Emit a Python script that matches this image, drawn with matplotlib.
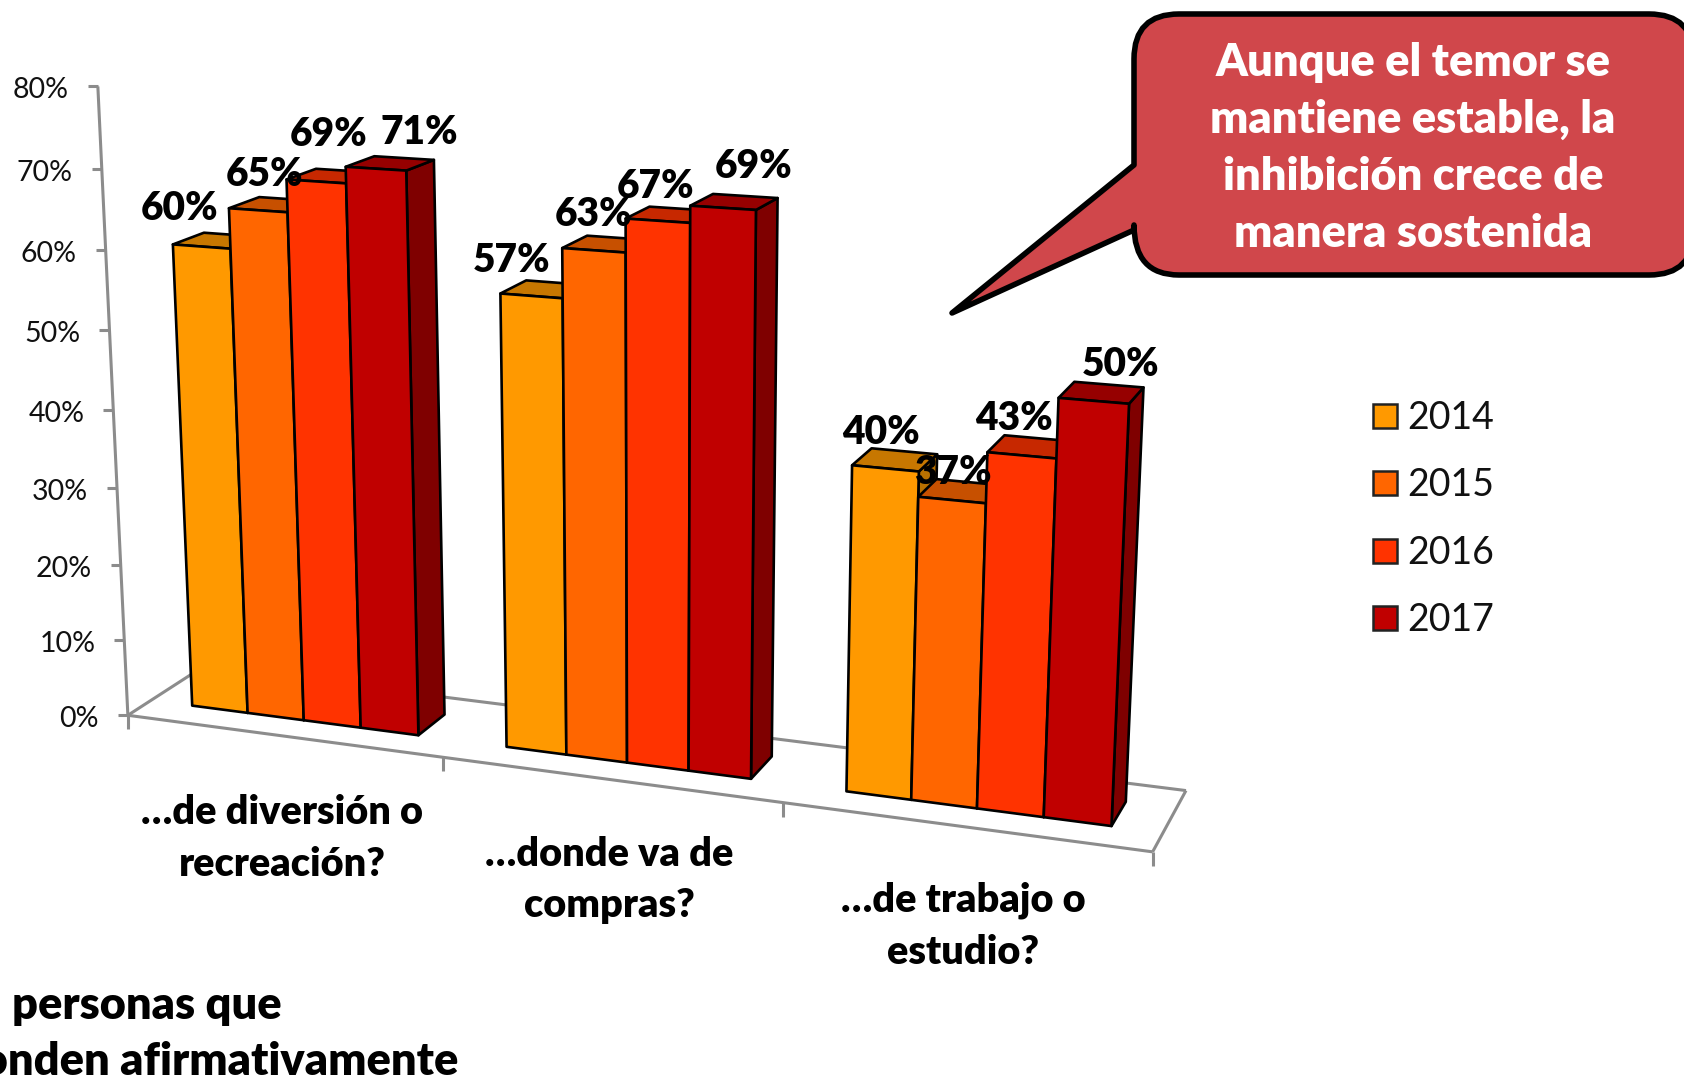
#!/usr/bin/env python3

import matplotlib
matplotlib.use('Agg')
import numpy as np
import matplotlib.pyplot as plt
from matplotlib.patches import Polygon, PathPatch, Rectangle
from matplotlib.path import Path

# Datos
categories = ['…de diversión o\nrecreación?', '…donde va de\ncompras?', '…de trabajo o\nestudio?']
years = ['2014', '2015', '2016', '2017']
values_2014 = [60, 57, 40]
values_2015 = [65, 63, 37]
values_2016 = [69, 67, 43]
values_2017 = [71, 69, 50]
y_ticks = [0, 10, 20, 30, 40, 50, 60, 70, 80]
callout_text = 'Aunque el temor se\nmantiene estable, la\ninhibición crece de\nmanera sostenida'

series = [values_2014, values_2015, values_2016, values_2017]

# Colores: frente, tapa, lado
front_colors = ['#FF9900', '#FF6600', '#FF3300', '#C00000']
top_colors = ['#C77700', '#C75000', '#C72800', '#960000']
side_colors = ['#B87000', '#A84000', '#A02000', '#7F0000']
axis_color = '#8C8C8C'

# Posiciones de texto (px)
label_pos = [[(180, 209), (512, 261), (881, 433)],
             [(265, 175), (594, 215), (953, 472)],
             [(329, 135), (656, 186), (1014, 419)],
             [(419, 133), (754, 167), (1121, 365)]]
category_pos = [(282, 838), (609, 880), (963, 926)]

# Calibración de la perspectiva: (u, prof, valor) -> pixel
w = (1 / 3) / 5.5
g0 = 0.75 * w
anchors = [
    ((0, 0, 0), (128, 715)), ((1, 0, 0), (1152, 852)),
    ((0, 1, 0), (203, 666)), ((1, 1, 0), (1186, 791)),
    ((1 / 3, 0, 0), (443, 757)), ((2 / 3, 0, 0), (783, 802)),
    ((0, 0, 80), (98, 86)), ((0, 0, 40), (113, 411)),
    ((g0, .3, 0), (192, 706)), ((g0, .3, 60), (173, 244)),
    ((g0 + 4 * w, .3, 0), (418, 735)), ((g0 + 4 * w, .3, 71), (406, 170)),
    ((g0 + 4 * w, .7, 71), (434, 161)),
    ((2 / 3 + g0, .3, 0), (847, 792)), ((2 / 3 + g0, .3, 40), (852, 466)),
    ((2 / 3 + g0 + 4 * w, .3, 0), (1112, 826)), ((2 / 3 + g0 + 4 * w, .3, 50), (1129, 403)),
    ((2 / 3 + g0 + 4 * w, .7, 50), (1143, 387)),
    ((1 / 3 + g0 + 4 * w, .3, 69), (756, 210)), ((1 / 3 + g0 + 4 * w, .7, 69), (778, 198)),
]
A, b = [], []
for (X, Y, Z), (px, py) in anchors:
    Z = Z / 80
    A.append([X, Y, Z, 1, 0, 0, 0, 0, -px * X, -px * Y, -px * Z])
    b.append(px)
    A.append([0, 0, 0, 0, X, Y, Z, 1, -py * X, -py * Y, -py * Z])
    b.append(py)
P = np.append(np.linalg.lstsq(np.array(A, float), np.array(b, float), rcond=None)[0], 1).reshape(3, 4)


def proj(u, d, v):
    x, y, h = P @ np.array([u, d, v / 80, 1.0])
    return x / h, y / h


plt.rcParams['font.family'] = ['Lato', 'DejaVu Sans']

fig = plt.figure(figsize=(16.84, 10.81), dpi=100)
ax = fig.add_axes([0, 0, 1, 1])
ax.set_xlim(0, 1684)
ax.set_ylim(1081, 0)
ax.axis('off')


def line(p, q, lw=2.2):
    ax.plot([p[0], q[0]], [p[1], q[1]], color=axis_color, lw=lw, solid_capstyle='butt', zorder=1)


# Piso y ejes
line(proj(0, 0, 0), proj(0, 0, 80))
line(proj(0, 0, 0), proj(1, 0, 0))
line(proj(0, 0, 0), proj(0, 1, 0))
line(proj(0, 1, 0), proj(1, 1, 0))
line(proj(1, 0, 0), proj(1, 1, 0))
for tick in y_ticks:
    x, y = proj(0, 0, tick)
    line((x - 10, y), (x, y))
    ax.text(x - 29, y + 4, f'{tick}%', fontsize=20.5, ha='right', va='center', color='#111111')
for i in range(4):
    x, y = proj(i / 3, 0, 0)
    line((x, y), (x, y + 14))

# Barras
for c in range(len(categories)):
    for s, vals in enumerate(series):
        v = vals[c]
        u0 = c / 3 + g0 + s * w
        u1 = u0 + w
        d0, d1 = .3, .7
        side = [proj(u1, d0, 0), proj(u1, d1, 0), proj(u1, d1, v), proj(u1, d0, v)]
        top = [proj(u0, d0, v), proj(u1, d0, v), proj(u1, d1, v), proj(u0, d1, v)]
        front = [proj(u0, d0, 0), proj(u1, d0, 0), proj(u1, d0, v), proj(u0, d0, v)]
        for pts, col in ((side, side_colors[s]), (top, top_colors[s]), (front, front_colors[s])):
            ax.add_patch(Polygon(pts, closed=True, facecolor=col, edgecolor='black', lw=1.9,
                                 joinstyle='round', zorder=2))

# Etiquetas de datos
for s, vals in enumerate(series):
    for c, v in enumerate(vals):
        x, y = label_pos[s][c]
        ax.text(x, y, f'{v}%', fontsize=28, fontweight='heavy', ha='center', va='center',
                color='black', zorder=5)

# Categorías
for (x, y), cat in zip(category_pos, categories):
    ax.text(x, y, cat, fontsize=28.5, fontweight='heavy', ha='center', va='center',
            linespacing=1.5, color='black', zorder=5)

# Título cortado abajo
ax.text(12, 1006, 'personas que', fontsize=32.5, fontweight='heavy', ha='left', va='center', zorder=5)
ax.text(458, 1062, 'responden afirmativamente', fontsize=32.5, fontweight='heavy', ha='right',
        va='center', zorder=5)

# Leyenda
for i, year in enumerate(years):
    yc = 416 + i * 67.4
    ax.add_patch(Rectangle((1373, yc - 12), 24, 24, facecolor=front_colors[i], edgecolor='#222222',
                           lw=1.8, zorder=3))
    ax.text(1407, yc + 2, year, fontsize=27, ha='left', va='center', color='#111111')

# Globo de texto
L, R, T, B, r = 1134, 1694, 14, 275, 45
verts = [(L + r, T), (R - r, T), (R, T), (R, T + r), (R, B - r), (R, B), (R - r, B), (L + r, B),
         (L, B), (L, B - r - 5), (L, 230), (952, 313), (L, 165), (L, T + r), (L, T), (L + r, T),
         (L + r, T)]
codes = [Path.MOVETO, Path.LINETO, Path.CURVE3, Path.CURVE3, Path.LINETO, Path.CURVE3, Path.CURVE3,
         Path.LINETO, Path.CURVE3, Path.CURVE3, Path.LINETO, Path.LINETO, Path.LINETO, Path.LINETO,
         Path.CURVE3, Path.CURVE3, Path.CLOSEPOLY]
ax.add_patch(PathPatch(Path(verts, codes), facecolor='#D0474B', edgecolor='black', lw=4,
                       joinstyle='round', zorder=6))
ax.text(1413, 148, callout_text, fontsize=32.5, fontweight='heavy', color='white', ha='center',
        va='center', linespacing=1.47, zorder=7)

plt.savefig('out.png', dpi=100)
plt.close(fig)
